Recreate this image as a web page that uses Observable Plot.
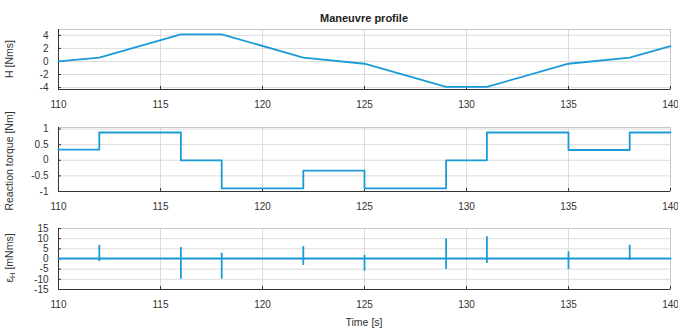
<!DOCTYPE html>
<html>
<head>
<meta charset="utf-8">
<script src="https://cdn.jsdelivr.net/npm/d3@7"></script>
<script src="https://cdn.jsdelivr.net/npm/@observablehq/plot@0.6"></script>
<style>
  body { margin: 0; background: #fff; font-family: "Liberation Sans", Arial, sans-serif; }
  #wrap { position: relative; width: 678px; height: 329px; overflow: hidden; }
  #title { position: absolute; top: 12px; left: 58px; width: 612px; text-align: center;
           font-size: 11px; font-weight: bold; line-height: 12px; color: #222; }
  .panel { position: absolute; left: 0; }
  .panel svg { overflow: visible; }
</style>
</head>
<body>
<div id="wrap">
  <div id="title">Maneuvre profile</div>
</div>
<script>
// ---- data ----
const xTicks = [110, 115, 120, 125, 130, 135, 140];

const hTime  = [110, 112, 116, 118, 122, 125, 129, 131, 135, 138, 140];
const hValue = [0, 0.6, 4.15, 4.15, 0.6, -0.35, -3.9, -3.9, -0.35, 0.6, 2.35];
const hTicks = [-4, -2, 0, 2, 4];

const torqueTime  = [110, 112, 116, 118, 122, 125, 129, 131, 135, 138, 140];
const torqueValue = [0.34, 0.89, 0, -0.9, -0.33, -0.9, 0, 0.89, 0.33, 0.89, 0.89];
const torqueTicks = [-1, -0.5, 0, 0.5, 1];

const errBaseTime  = [110, 140];
const errBaseValue = [0.2, 0.2];
const spikeTime = [112, 116, 118, 122, 125, 129, 131, 135, 138];
const spikeMax  = [6.7, 5.6, 2.8, 6.1, 1.8, 9.8, 11, 3.5, 6.8];
const spikeMin  = [-1.3, -9.9, -9.9, -3.2, -6, -5.2, -2.2, -5.2, -0.7];
const errTicks = [-15, -10, -5, 0, 5, 10, 15];

const lineColor = "#1b9bd8";
const gridColor = "#dcdcdc";
const textColor = "#333";

const hData = hTime.map((t, i) => ({t, v: hValue[i]}));
const torqueData = torqueTime.map((t, i) => ({t, v: torqueValue[i]}));
const errBase = errBaseTime.map((t, i) => ({t, v: errBaseValue[i]}));
const spikes = spikeTime.map((t, i) => ({t, lo: spikeMin[i], hi: spikeMax[i]}));

function panel({top, height, marginTop, marginBottom, yDomain, yTicks, marks}) {
  const p = Plot.plot({
    width: 678,
    height,
    marginTop,
    marginBottom,
    marginLeft: 58,
    marginRight: 8,
    style: {fontFamily: '"Liberation Sans", Arial, sans-serif', fontSize: "10px", color: textColor, background: "transparent"},
    x: {domain: [110, 140]},
    y: {domain: yDomain},
    marks: [
      Plot.gridX(xTicks, {stroke: gridColor, strokeOpacity: 1}),
      Plot.gridY(yTicks, {stroke: gridColor, strokeOpacity: 1}),
      Plot.frame({stroke: "#c8c8c8"}),
      Plot.ruleX([110], {stroke: "#333"}),
      Plot.ruleY([yDomain[0]], {stroke: "#333"}),
      Plot.axisX(xTicks, {tickSize: -3, tickPadding: 14, stroke: "#333", fill: textColor,
        tickFormat: d => String(d), label: null}),
      Plot.axisY(yTicks, {tickSize: -3, tickPadding: 13, stroke: "#333", fill: textColor,
        tickFormat: d => String(d), label: null}),
      ...marks
    ]
  });
  const div = document.createElement("div");
  div.className = "panel";
  div.style.top = top + "px";
  div.appendChild(p);
  document.getElementById("wrap").appendChild(div);
  return p;
}

function yLabel(svg, cy, parts) {
  const t = d3.select(svg).append("text")
    .attr("transform", `translate(13, ${cy}) rotate(-90)`)
    .attr("text-anchor", "middle")
    .attr("fill", textColor)
    .attr("font-size", 10.5);
  parts(t);
}

const p1 = panel({
  top: 0, height: 118, marginTop: 29, marginBottom: 29,
  yDomain: [-4.3, 4.9], yTicks: hTicks,
  marks: [Plot.line(hData, {x: "t", y: "v", stroke: lineColor, strokeWidth: 1.8})]
});
yLabel(p1, 59, t => t.text("H [Nms]"));

const p2 = panel({
  top: 118, height: 98, marginTop: 9, marginBottom: 25,
  yDomain: [-1, 1.05], yTicks: torqueTicks,
  marks: [Plot.line(torqueData, {x: "t", y: "v", stroke: lineColor, strokeWidth: 1.8, curve: "step-after"})]
});
yLabel(p2, 43, t => t.text("Reaction torque [Nm]"));

const p3 = panel({
  top: 216, height: 113, marginTop: 12, marginBottom: 40,
  yDomain: [-15, 15], yTicks: errTicks,
  marks: [
    Plot.line(errBase, {x: "t", y: "v", stroke: lineColor, strokeWidth: 2}),
    Plot.ruleX(spikes, {x: "t", y1: "lo", y2: "hi", stroke: lineColor, strokeWidth: 1.8})
  ]
});
yLabel(p3, 42, t => {
  t.append("tspan").text("ε");
  t.append("tspan").attr("font-size", 7.5).attr("dy", 2).text("H");
  t.append("tspan").attr("dy", -2).text(" [mNms]");
});

// x-axis title
d3.select(p3).append("text")
  .attr("x", 364).attr("y", 110)
  .attr("text-anchor", "middle")
  .attr("fill", textColor)
  .attr("font-size", 10.5)
  .text("Time [s]");
</script>
</body>
</html>
